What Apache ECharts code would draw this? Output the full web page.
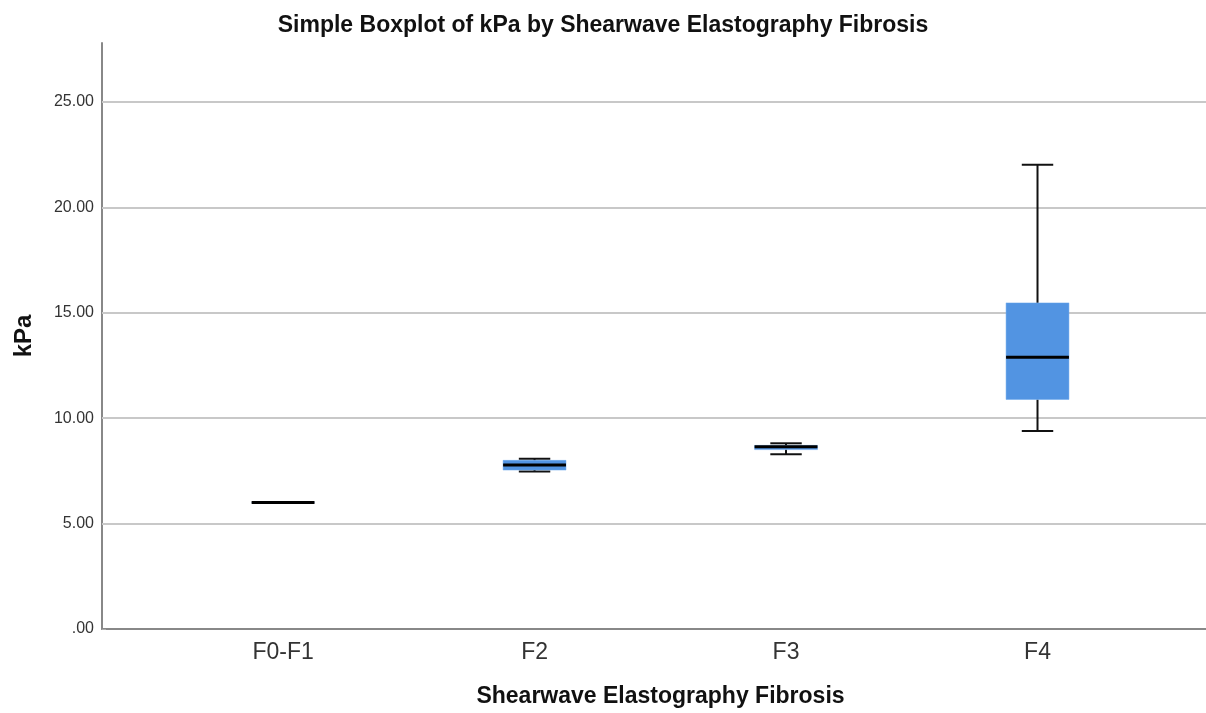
<!DOCTYPE html>
<html>
<head>
<meta charset="utf-8">
<script src="https://cdn.jsdelivr.net/npm/echarts@6/dist/echarts.min.js"></script>
<style>
  html, body { margin: 0; padding: 0; background: #fff; }
  #chart { width: 1206px; height: 713px; }
</style>
</head>
<body>
<div id="chart"></div>
<script>
// groups on the x axis
var categories = ['F0-F1', 'F2', 'F3', 'F4'];
// five-number summaries (kPa)
var lowWhisker = [6.0, 7.47, 8.29, 9.39];
var q1 = [6.0, 7.54, 8.51, 10.89];
var median = [6.0, 7.78, 8.65, 12.89];
var q3 = [6.0, 8.0, 8.71, 15.47];
var highWhisker = [6.0, 8.08, 8.81, 22.02];
// y tick labels
var yTicks = [0, 5, 10, 15, 20, 25];
var yTickLabels = ['.00', '5.00', '10.00', '15.00', '20.00', '25.00'];

var boxData = categories.map(function (c, i) {
  return [i, lowWhisker[i], q1[i], median[i], q3[i], highWhisker[i]];
});

function renderBox(params, api) {
  var x = api.value(0);
  var pMin = api.coord([x, api.value(1)]);
  var pQ1 = api.coord([x, api.value(2)]);
  var pMed = api.coord([x, api.value(3)]);
  var pQ3 = api.coord([x, api.value(4)]);
  var pMax = api.coord([x, api.value(5)]);
  var boxW = api.size([0.25, 0])[0];
  var capW = api.size([0.125, 0])[0];
  var cx = pMed[0];
  var lineStyle = { stroke: '#111', lineWidth: 2 };
  return {
    type: 'group',
    children: [
      { type: 'line', shape: { x1: cx, y1: pQ3[1], x2: cx, y2: pMax[1] }, style: lineStyle },
      { type: 'line', shape: { x1: cx, y1: pQ1[1], x2: cx, y2: pMin[1] }, style: lineStyle },
      { type: 'line', shape: { x1: cx - capW / 2, y1: pMax[1], x2: cx + capW / 2, y2: pMax[1] }, style: lineStyle },
      { type: 'line', shape: { x1: cx - capW / 2, y1: pMin[1], x2: cx + capW / 2, y2: pMin[1] }, style: lineStyle },
      { type: 'rect', shape: { x: cx - boxW / 2, y: pQ3[1], width: boxW, height: pQ1[1] - pQ3[1] },
        style: { fill: '#5294e2', stroke: '#6aa6ec', lineWidth: 0.5 } },
      { type: 'line', shape: { x1: cx - boxW / 2, y1: pMed[1], x2: cx + boxW / 2, y2: pMed[1] },
        style: { stroke: '#000', lineWidth: 3 } }
    ]
  };
}

var chart = echarts.init(document.getElementById('chart'), null, { renderer: 'canvas' });

var option = {
  backgroundColor: '#fff',
  textStyle: { fontFamily: '"Liberation Sans", Arial, sans-serif' },
  title: {
    text: 'Simple Boxplot of kPa by Shearwave Elastography Fibrosis',
    left: 'center',
    top: 9,
    textStyle: { fontSize: 23, fontWeight: 'bold', color: '#111', fontFamily: '"Liberation Sans", Arial, sans-serif' }
  },
  grid: { left: 102, right: 0, top: 43, bottom: 83, containLabel: false },
  xAxis: {
    type: 'value',
    min: -0.72,
    max: 3.67,
    name: 'Shearwave Elastography Fibrosis',
    nameLocation: 'middle',
    nameGap: 56,
    nameTextStyle: { fontSize: 23, fontWeight: 'bold', color: '#111', padding: [0, 0, 0, 13] },
    axisLine: { show: true, onZero: false, lineStyle: { color: '#888', width: 2 } },
    axisTick: { show: false },
    splitLine: { show: false },
    axisLabel: {
      fontSize: 23,
      color: '#333',
      margin: 12,
      showMinLabel: false,
      showMaxLabel: false,
      formatter: function (v) {
        return Number.isInteger(v) && categories[v] !== undefined ? categories[v] : '';
      }
    }
  },
  yAxis: {
    type: 'value',
    min: 0,
    max: 27.8,
    interval: 5,
    name: 'kPa',
    nameLocation: 'middle',
    nameGap: 66,
    nameTextStyle: { fontSize: 24, fontWeight: 'bold', color: '#111' },
    axisLine: { show: true, onZero: false, lineStyle: { color: '#888', width: 2 } },
    axisTick: { show: true, length: 4, inside: true, lineStyle: { color: '#aaa' } },
    splitLine: { show: false },
    axisLabel: {
      fontSize: 16,
      color: '#333',
      margin: 8,
      padding: [4, 0, 0, 0],
      showMaxLabel: false,
      formatter: function (v) {
        var k = yTicks.indexOf(v);
        return k >= 0 ? yTickLabels[k] : '';
      }
    }
  },
  series: [{
    // horizontal reference lines at the labelled ticks
    type: 'line',
    data: [],
    z: 1,
    silent: true,
    markLine: {
      silent: true,
      symbol: 'none',
      label: { show: false },
      lineStyle: { color: '#c8c8c8', width: 2, type: 'solid' },
      data: yTicks.slice(1).map(function (v) { return { yAxis: v }; })
    }
  }, {
    type: 'custom',
    renderItem: renderBox,
    encode: { x: 0, y: [1, 2, 3, 4, 5] },
    data: boxData,
    z: 5
  }]
};

chart.setOption(option);
</script>
</body>
</html>
